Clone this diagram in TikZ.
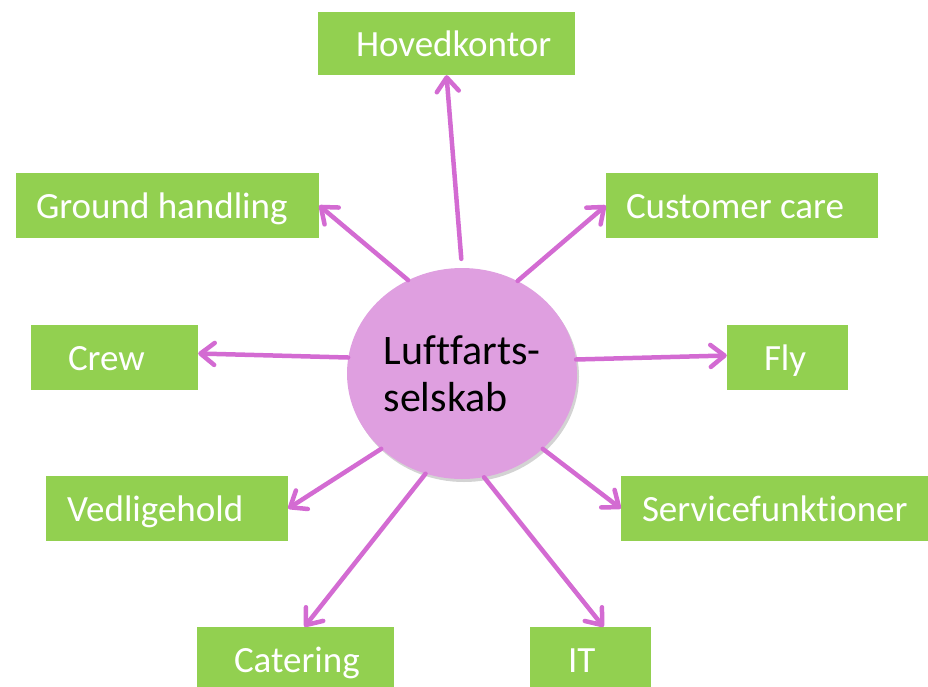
\documentclass[tikz,border=0pt]{standalone}
\usepackage{fontspec}
\setmainfont{Carlito}[Ligatures=NoCommon]
\usetikzlibrary{arrows.meta,shapes.geometric,shadows}
\definecolor{boxgreen}{HTML}{92D050}
\definecolor{arrowpink}{HTML}{D36BD2}
\definecolor{hubpink}{HTML}{DF9FE0}
\newcommand\bxt[2]{\makebox[#1][l]{#2}}
\begin{document}
\begin{tikzpicture}[x=1pt,y=-1pt,
  box/.style={rectangle, fill=boxgreen, text=white, inner ysep=0pt,
    font=\fontsize{37}{44}\selectfont, text height=33pt, text depth=7pt},
  conn/.style={draw=arrowpink, line width=4.5pt, line cap=round,
    -{Straight Barb[length=14pt,width=22pt,round]}}]
\clip (0,0) rectangle (928,686);
\node[ellipse, fill=hubpink, minimum width=230pt, minimum height=211pt,
  inner sep=0pt, align=left, font=\fontsize{42}{47}\selectfont,
  drop shadow={opacity=0.35, shadow xshift=2pt, shadow yshift=-3pt}]
  (hub) at (462,373.5) {Luftfarts-\\selskab};
\node[box, minimum width=257pt, minimum height=63pt, inner xsep=38pt] (hov) at (446.5,43.5) {\bxt{181pt}{Hovedkontor}};
\node[box, minimum width=303pt, minimum height=65pt, inner xsep=20pt] (gh) at (167.5,205.5) {\bxt{263pt}{Ground handling}};
\node[box, minimum width=272pt, minimum height=65pt, inner xsep=20pt] (cc) at (742,205.5) {\bxt{232pt}{Customer care}};
\node[box, minimum width=167pt, minimum height=65pt, inner xsep=37pt] (crew) at (114.5,357.5) {\bxt{93pt}{Crew}};
\node[box, minimum width=121pt, minimum height=65pt, inner xsep=37pt] (fly) at (787.5,357.5) {\bxt{47pt}{Fly}};
\node[box, minimum width=242pt, minimum height=65pt, inner xsep=21pt] (ved) at (167,508.5) {\bxt{200pt}{Vedligehold}};
\node[box, minimum width=307pt, minimum height=65pt, inner xsep=21pt] (serv) at (774.5,508.5) {\bxt{265pt}{Servicefunktioner}};
\node[box, minimum width=197pt, minimum height=65pt, inner xsep=37pt] (cat) at (295.5,659.5) {\bxt{123pt}{Catering}};
\node[box, minimum width=121pt, minimum height=65pt, inner xsep=38pt] (it) at (590.5,659.5) {\bxt{45pt}{IT}};
\draw[conn, shorten <=9pt] (hub.90) -- (hov.south);
\draw[conn] (hub.120.5) -- (gh.east);
\draw[conn] (hub.59.3) -- (cc.west);
\draw[conn] (hub.172.5) -- ([yshift=4pt]crew.east);
\draw[conn] (hub.7.7) -- ([yshift=2pt]fly.west);
\draw[conn] (hub.223.4) -- (ved.east);
\draw[conn] (hub.317.2) -- (serv.west);
\draw[conn] (hub.250.5) -- ([xshift=9pt]cat.north);
\draw[conn] (hub.282.6) -- ([xshift=13pt]it.north);
\end{tikzpicture}
\end{document}
